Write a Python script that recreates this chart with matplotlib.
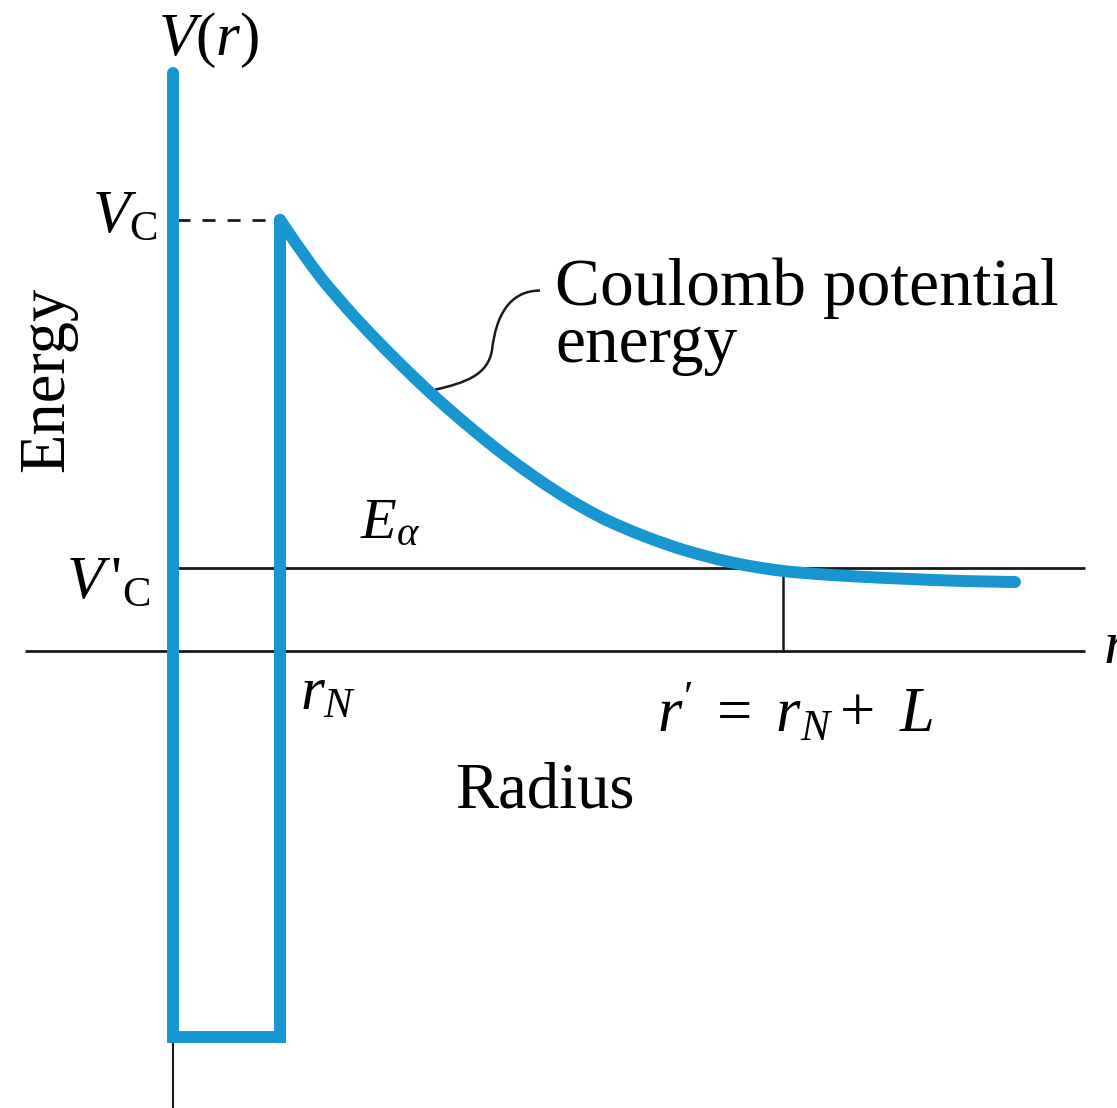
import matplotlib
matplotlib.use("Agg")
import matplotlib.pyplot as plt
from matplotlib.path import Path
from matplotlib.patches import PathPatch

plt.rcParams["font.family"] = ["Liberation Serif", "DejaVu Serif"]
plt.rcParams["mathtext.fontset"] = "custom"
plt.rcParams["mathtext.rm"] = "Liberation Serif"
plt.rcParams["mathtext.it"] = "Liberation Serif:italic"
plt.rcParams["mathtext.bf"] = "Liberation Serif:bold"

# Radii in units of the nuclear radius r_N, energies in units of the barrier height V_C
r_N = 1.0
V_C = 1.0
V_C_prime = 0.193
r_prime = 5.70
well_depth = -0.896
wall_top = 1.34

# Coulomb tail outside the nucleus
coulomb_r = [1.0, 1.280, 1.561, 1.841, 2.121, 2.402, 2.682, 2.963, 3.243,
             3.551, 3.869, 4.178, 4.617, 4.925, 5.234, 5.551, 5.860, 6.421,
             6.888, 7.355, 7.869]
coulomb_V = [1.0, 0.896, 0.812, 0.736, 0.666, 0.599, 0.538, 0.480, 0.427,
             0.374, 0.326, 0.288, 0.246, 0.223, 0.204, 0.190, 0.181, 0.172,
             0.167, 0.162, 0.160]

# Extent of the radius axis and the alpha-energy level line
axis_r = [-1.38, 8.52]
level_r = [0.04, 8.52]

BLUE = "#1796d2"
INK = "#1a1a1a"
FS = 46.5


def smooth_path(xs, ys):
    """Quadratic-Bezier path using the points as control vertices."""
    pts = list(zip(xs, ys))
    verts = [pts[0]]
    codes = [Path.MOVETO]
    for i in range(1, len(pts) - 1):
        mid = ((pts[i][0] + pts[i + 1][0]) / 2, (pts[i][1] + pts[i + 1][1]) / 2)
        if i == len(pts) - 2:
            mid = pts[-1]
        verts += [pts[i], mid]
        codes += [Path.CURVE3, Path.CURVE3]
    return Path(verts, codes)


fig = plt.figure(figsize=(11.17, 11.08), dpi=100)
ax = fig.add_axes([0, 0, 1, 1])
ax.set_xlim(-1.617, 8.822)
ax.set_ylim(-1.060, 1.510)
ax.axis("off")

# radius axis and E_alpha level
ax.plot(axis_r, [0, 0], color=INK, lw=2.0, solid_capstyle="butt", zorder=1)
ax.plot(level_r, [V_C_prime, V_C_prime], color=INK, lw=2.0,
        solid_capstyle="butt", zorder=1)
# energy axis continuing below the well
ax.plot([0, 0], [well_depth, -1.06], color=INK, lw=1.5, zorder=1)
# classical turning point r'
ax.plot([r_prime, r_prime], [0, V_C_prime], color=INK, lw=1.8, zorder=1)
# barrier height marker
ax.plot([0.04, r_N - 0.05], [V_C, V_C], color=INK, lw=2.0,
        linestyle=(0, (4.7, 4.3)), dash_capstyle="butt", zorder=1)

# square well
ax.plot([0, 0, r_N, r_N], [wall_top, well_depth, well_depth, V_C],
        color=BLUE, lw=8.6, solid_capstyle="round", solid_joinstyle="miter",
        zorder=3)
# Coulomb barrier
ax.add_patch(PathPatch(smooth_path(coulomb_r, coulomb_V), facecolor="none",
                       edgecolor=BLUE, lw=8.6, capstyle="round",
                       joinstyle="round", zorder=3))

# leader from the label to the curve
leader = Path(
    [(2.449, 0.606), (2.729, 0.622), (2.944, 0.640), (2.981, 0.698),
     (3.019, 0.780), (3.150, 0.836), (3.430, 0.836)],
    [Path.MOVETO, Path.CURVE4, Path.CURVE4, Path.CURVE4,
     Path.CURVE4, Path.CURVE4, Path.CURVE4])
ax.add_patch(PathPatch(leader, facecolor="none", edgecolor=INK, lw=1.8,
                       zorder=2))

# labels
ax.text(0.336, 1.383, r"$V(r)$", fontsize=44, ha="center", va="baseline")
ax.text(-0.15, 0.972, r"$V_{\mathrm{C}}$", fontsize=44, ha="right",
        va="baseline")
ax.text(-0.215, 0.125, r"$V\,'_{\mathrm{C}}$", fontsize=44, ha="right",
        va="baseline")
ax.text(1.748, 0.262, r"$E_{\alpha}$", fontsize=42, ha="left",
        va="baseline")
ax.text(1.187, -0.137, r"$r_N$", fontsize=44, ha="left", va="baseline")
ax.text(4.52, -0.188, r"$r'\;=\ r_N +\ L$", fontsize=45, ha="left",
        va="baseline")
ax.text(8.692, -0.028, r"$r$", fontsize=44, ha="left", va="baseline")
ax.text(3.57, 0.803, "Coulomb potential", fontsize=48.5, ha="left",
        va="baseline")
ax.text(3.57, 0.671, "energy", fontsize=48.5, ha="left", va="baseline")
ax.text(2.636, -0.364, "Radius", fontsize=FS, ha="left", va="baseline")
ax.text(-1.028, 0.629, "Energy", fontsize=FS, ha="center", va="baseline",
        rotation=90, rotation_mode="anchor")

fig.savefig("out.png", dpi=100)
